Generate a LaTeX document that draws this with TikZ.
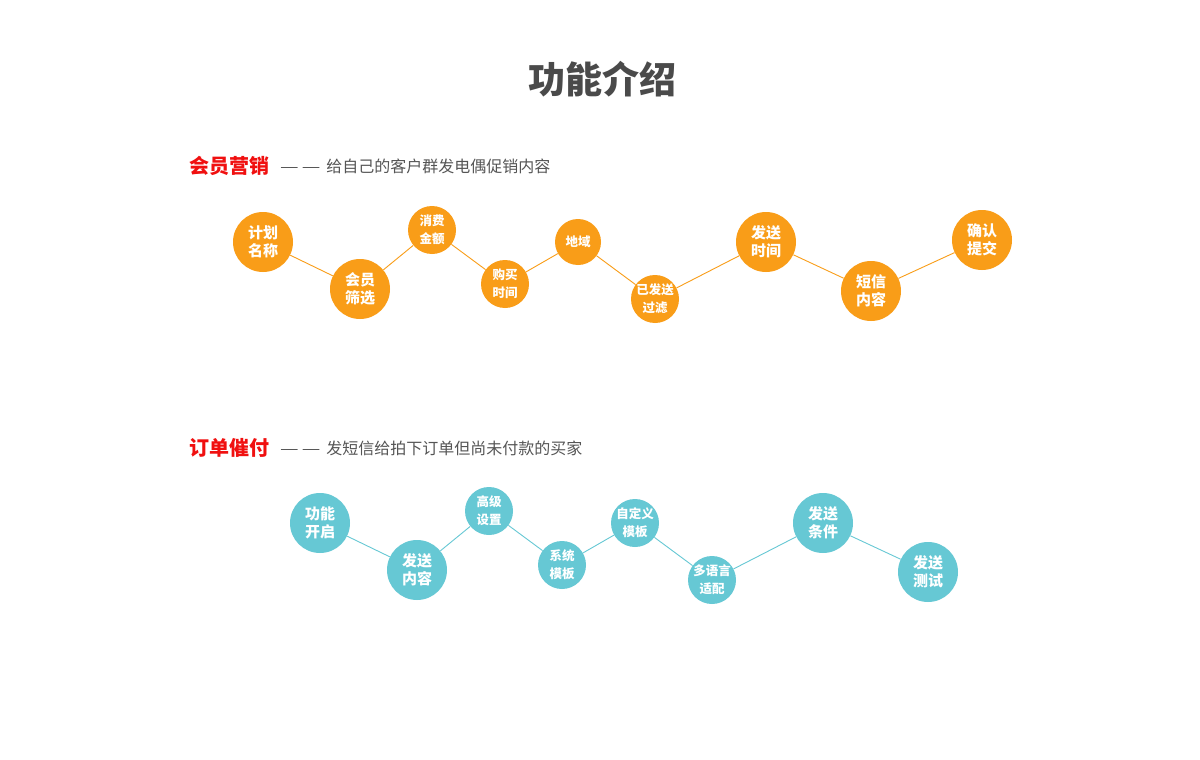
\documentclass[tikz,border=0pt]{standalone}
\usepackage{fontspec}
\setmainfont{Noto Sans CJK SC}
\definecolor{orng}{HTML}{F99D18}
\definecolor{teal2}{HTML}{66C8D4}
\definecolor{ttl}{HTML}{4A4A4A}
\definecolor{sub}{HTML}{555555}
\definecolor{hdr}{HTML}{F01010}
\newcommand{\wdash}{\scalebox{1.3}[1]{—}}
\tikzset{
  bigo/.style={circle,fill=orng,minimum size=60pt,inner sep=0pt,text=white,align=center,font=\fontsize{15}{18}\selectfont\bfseries},
  smo/.style={circle,fill=orng,minimum size=48pt,inner sep=0pt,text=white,align=center,font=\fontsize{12.5}{18}\selectfont\bfseries},
  bigt/.style={bigo,fill=teal2},
  smt/.style={smo,fill=teal2},
  lo/.style={draw=orng,line width=0.9pt},
  lt/.style={draw=teal2,line width=0.9pt},
  hd/.style={anchor=west,text=hdr,font=\fontsize{20}{24}\selectfont\bfseries,inner sep=0pt},
  sb/.style={anchor=west,text=sub,font=\fontsize{16}{20}\selectfont,inner sep=0pt},
}
\begin{document}
\begin{tikzpicture}[x=1pt,y=-1pt]
\useasboundingbox (0,0) rectangle (1200,760);
\fill[white] (0,0) rectangle (1200,760);
\node[text=ttl,font=\fontsize{37}{44}\selectfont\bfseries] (title) at (602,79) {功能介绍};

\node[hd] (h1) at (189,166) {会员营销};
\node[sb] (s1) at (280,166) {\wdash\hspace{3pt}\wdash\hspace{6pt}给自己的客户群发电偶促销内容};

\node[bigo] (a1) at (263,242) {计划\\名称};
\node[bigo] (a2) at (360,289) {会员\\筛选};
\node[smo] (a3) at (432,230) {消费\\金额};
\node[smo] (a4) at (505,284) {购买\\时间};
\node[smo,minimum size=46pt] (a5) at (578,242) {地域};
\node[smo] (a6) at (655,299) {已发送\\过滤};
\node[bigo] (a7) at (766,242) {发送\\时间};
\node[bigo] (a8) at (871,291) {短信\\内容};
\node[bigo] (a9) at (982,240) {确认\\提交};
\draw[lo] (a1) -- (a2);
\draw[lo] (a2) -- (a3);
\draw[lo] (a3) -- (a4);
\draw[lo] (a4) -- (a5);
\draw[lo] (a5) -- (a6);
\draw[lo] (a6) -- (a7);
\draw[lo] (a7) -- (a8);
\draw[lo] (a8) -- (a9);

\node[hd] (h2) at (189,448) {订单催付};
\node[sb] (s2) at (280,448) {\wdash\hspace{3pt}\wdash\hspace{6pt}发短信给拍下订单但尚未付款的买家};

\node[bigt] (b1) at (320,523) {功能\\开启};
\node[bigt] (b2) at (417,570) {发送\\内容};
\node[smt] (b3) at (489,511) {高级\\设置};
\node[smt] (b4) at (562,565) {系统\\模板};
\node[smt,minimum size=46pt] (b5) at (635,523) {自定义\\模板};
\node[smt] (b6) at (712,580) {多语言\\适配};
\node[bigt] (b7) at (823,523) {发送\\条件};
\node[bigt] (b8) at (928,572) {发送\\测试};
\draw[lt] (b1) -- (b2);
\draw[lt] (b2) -- (b3);
\draw[lt] (b3) -- (b4);
\draw[lt] (b4) -- (b5);
\draw[lt] (b5) -- (b6);
\draw[lt] (b6) -- (b7);
\draw[lt] (b7) -- (b8);
\end{tikzpicture}
\end{document}
